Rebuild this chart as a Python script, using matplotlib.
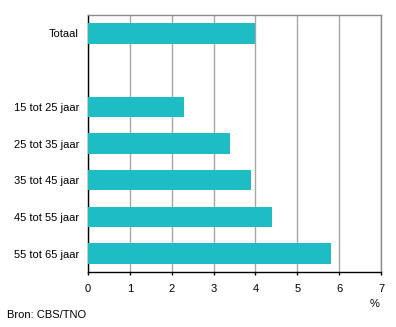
import numpy as np
import matplotlib.pyplot as plt

# Data
categories = ['Totaal', '', '15 tot 25 jaar', '25 tot 35 jaar',
              '35 tot 45 jaar', '45 tot 55 jaar', '55 tot 65 jaar']
values = [4.0, np.nan, 2.3, 3.4, 3.9, 4.4, 5.8]
xticks = [0, 1, 2, 3, 4, 5, 6, 7]

plt.rcParams['font.family'] = ['Liberation Sans', 'DejaVu Sans']

fig = plt.figure(figsize=(3.96, 3.27), dpi=100)
ax = fig.add_axes([88 / 396, 1 - 272 / 327, 293 / 396, 257 / 327])

pos = np.arange(len(categories))
ax.barh(pos, values, height=0.56, color='#1ebcc5', zorder=3)

ax.set_ylim(len(categories) - 0.5, -0.5)
ax.set_xlim(0, 7)
ax.set_xticks(xticks)
ax.set_yticks(pos)
ax.set_yticklabels(categories)

ax.grid(axis='x', color='#a6a6a6', linewidth=1.0, zorder=0)
ax.tick_params(axis='y', length=0, pad=6.5, labelsize=8)
ax.tick_params(axis='x', length=2.5, width=1, color='black', pad=6, labelsize=8)

for side in ['left', 'bottom']:
    ax.spines[side].set_color('black')
    ax.spines[side].set_linewidth(1.0)
for side in ['top', 'right']:
    ax.spines[side].set_color('#8a8a8a')
    ax.spines[side].set_linewidth(1.0)

fig.text(375 / 396, 1 - 304 / 327, '%', ha='center', va='center', fontsize=8)
fig.text(7 / 396, 1 - 315 / 327, 'Bron: CBS/TNO', ha='left', va='center', fontsize=8)

fig.savefig('out.png', dpi=100)
